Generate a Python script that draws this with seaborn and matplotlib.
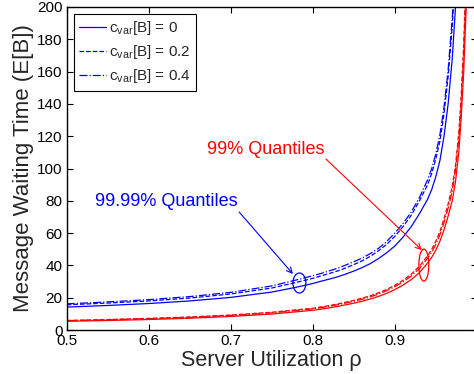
import matplotlib
matplotlib.use("Agg")
import matplotlib.pyplot as plt
from matplotlib.patches import Ellipse
import seaborn as sns

# server utilization grid
rho_blue = [0.50, 0.55, 0.60, 0.65, 0.70, 0.75, 0.78, 0.80, 0.81, 0.82, 0.83, 0.84,
            0.85, 0.86, 0.87, 0.88, 0.89, 0.90, 0.91, 0.92, 0.93, 0.94, 0.945,
            0.95, 0.955, 0.96, 0.965, 0.97, 0.974, 0.978]
# 99.99% quantiles
blue_cv0 = [14.2, 15.2, 16.4, 18.0, 20.2, 23.5, 26.5, 28.8, 30.2, 31.5, 32.9, 34.6,
            36.5, 38.6, 41.1, 44.2, 47.8, 52, 57.5, 64, 72, 81, 87,
            95, 105, 120, 140, 168, 200, 240]
blue_cv02 = [15.6, 16.7, 18.0, 19.8, 22.3, 26.0, 29.5, 32, 33.5, 35, 36.5, 38.4,
             40.5, 42.8, 45.6, 49, 53, 58, 64, 71, 80, 90, 97,
             106, 117, 134, 157, 188, 222, 266]
blue_cv04 = [16.2, 17.4, 18.8, 20.7, 23.3, 27.3, 31, 33.6, 35, 36.6, 38.2, 40.2,
             42.3, 44.5, 47.3, 50.5, 54.8, 60, 66, 73, 82, 93, 100,
             109, 121, 138, 161, 193, 228, 272]

rho_red = [0.50, 0.55, 0.60, 0.65, 0.70, 0.75, 0.80, 0.81, 0.82, 0.83, 0.84, 0.85,
           0.86, 0.87, 0.88, 0.89, 0.90, 0.91, 0.92, 0.93, 0.94, 0.945, 0.95,
           0.955, 0.96, 0.965, 0.97, 0.974, 0.978, 0.981, 0.984, 0.987, 0.99]
# 99% quantiles
red_cv0 = [5.4, 5.9, 6.5, 7.3, 8.4, 9.9, 12.2, 12.9, 13.7, 14.6, 15.6, 16.6,
           17.8, 19.2, 20.8, 22.7, 25, 27.8, 31.2, 35.5, 41.5, 45, 49.5,
           55, 62, 70.5, 80, 92, 110, 132, 160, 200, 250]
red_cv02 = [5.9, 6.5, 7.2, 8.1, 9.3, 11, 13.5, 14.3, 15.1, 16.1, 17.2, 18.3,
            19.7, 21.2, 23, 25.1, 27.7, 30.8, 34.6, 39.5, 46, 50, 55,
            61, 69, 78, 89, 102, 122, 146, 177, 222, 278]
red_cv04 = [5.8, 6.3, 7.0, 7.8, 9.0, 10.6, 13.1, 13.8, 14.7, 15.6, 16.7, 17.8,
            19.0, 20.5, 22.2, 24.3, 26.8, 29.8, 33.4, 38, 44.4, 48.2, 53,
            59, 66.5, 75.5, 86, 99, 118, 141, 171, 214, 268]

labels = [r"c$_\mathregular{var}$[B] = 0",
          r"c$_\mathregular{var}$[B] = 0.2",
          r"c$_\mathregular{var}$[B] = 0.4"]
styles = ["-", "--", "-."]

sns.set_style("ticks")
plt.rcParams["font.family"] = ["Liberation Sans", "DejaVu Sans"]
plt.rcParams["mathtext.fontset"] = "custom"
plt.rcParams["mathtext.rm"] = "Liberation Sans"

fig = plt.figure(figsize=(4.74, 3.74), dpi=100)
ax = fig.add_axes([0.1407, 0.1176, 0.8653, 0.8637])

for vals, ls, lab in zip([blue_cv0, blue_cv02, blue_cv04], styles, labels):
    sns.lineplot(x=rho_blue, y=vals, color="#0000ff", linestyle=ls, lw=0.9,
                 label=lab, ax=ax)
for vals, ls in zip([red_cv0, red_cv02, red_cv04], styles):
    sns.lineplot(x=rho_red, y=vals, color="#ff0000", linestyle=ls, lw=0.9,
                 ax=ax, legend=False)

ax.set_xlim(0.5, 1.0)
ax.set_ylim(0, 200)
ax.set_xticks([0.5, 0.6, 0.7, 0.8, 0.9, 1.0])
ax.set_xticklabels(["0.5", "0.6", "0.7", "0.8", "0.9", ""])
ax.set_yticks(range(0, 201, 20))
ax.tick_params(direction="in", top=True, right=True, length=4, width=0.8,
               labelsize=11, pad=3, colors="black")
for s in ax.spines.values():
    s.set_linewidth(1.0)
    s.set_color("black")
ax.set_xlabel("Server Utilization \u03c1", fontsize=15.5, labelpad=1)
ax.set_ylabel("Message Waiting Time (E[B])", fontsize=16, labelpad=2)

# annotations
ax.add_patch(Ellipse((0.7837, 29.1), 0.0158, 12.4, fill=False, ec="#0000ff", lw=0.9))
ax.add_patch(Ellipse((0.9354, 40.2), 0.0122, 19.8, fill=False, ec="#ff0000", lw=0.9))
ax.annotate("", xy=(0.7758, 34.7), xytext=(0.7102, 73.1),
            arrowprops=dict(arrowstyle="->", color="#0000ff", lw=0.8,
                            shrinkA=0, shrinkB=0))
ax.annotate("", xy=(0.933, 49.5), xytext=(0.816, 105.9),
            arrowprops=dict(arrowstyle="->", color="#ff0000", lw=0.8,
                            shrinkA=0, shrinkB=0))
ax.text(0.5346, 79.3, "99.99% Quantiles", color="#0000ff", fontsize=13,
        ha="left", va="center")
ax.text(0.8147, 111.5, "99% Quantiles", color="#ff0000", fontsize=13,
        ha="right", va="center")

leg = ax.legend(loc="upper left", fontsize=11, frameon=True, fancybox=False,
                edgecolor="black", framealpha=1, borderaxespad=0.45,
                handlelength=1.8, handletextpad=0.15, labelspacing=0.4,
                borderpad=0.35)
leg.get_frame().set_linewidth(0.8)

fig.savefig("out.png", dpi=100)
